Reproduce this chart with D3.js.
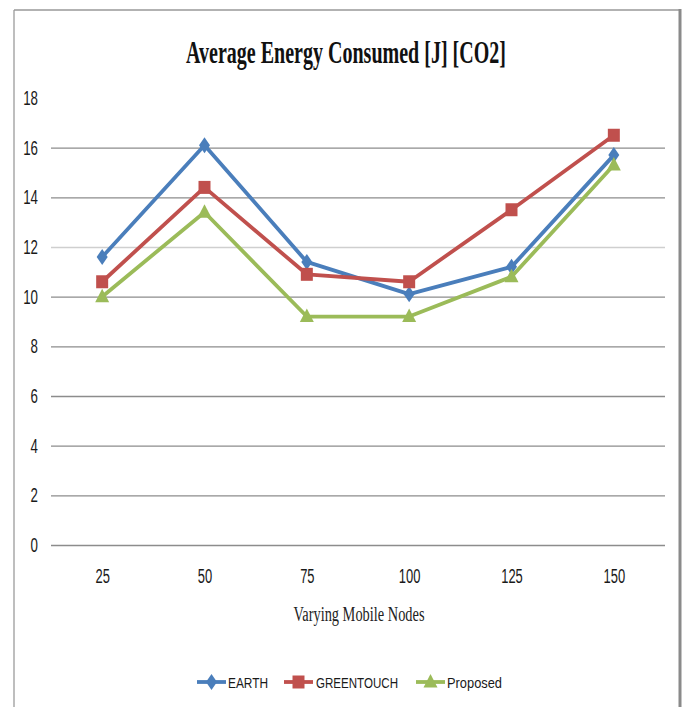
<!DOCTYPE html>
<html>
<head>
<meta charset="utf-8">
<script src="https://cdn.jsdelivr.net/npm/d3@7"></script>
<style>
  html, body { margin: 0; padding: 0; background: #fff; }
  svg { display: block; }
</style>
</head>
<body>
<svg id="chart" width="684" height="707"></svg>
<script>
// Mobile-node counts on the x axis
const nodes = ["25", "50", "75", "100", "125", "150"];

// Average energy consumed per scheme
const earth      = [11.6, 16.1, 11.4, 10.1, 11.2, 15.7];
const greentouch = [10.6, 14.4, 10.9, 10.6, 13.5, 16.5];
const proposed   = [10.0, 13.4,  9.2,  9.2, 10.8, 15.3];

const yTicks = [0, 2, 4, 6, 8, 10, 12, 14, 16, 18];

const seriesNames  = ["EARTH", "GREENTOUCH", "Proposed"];
const seriesColors = ["#4a7ebb", "#c0504d", "#9bbb59"];
const seriesShapes = ["diamond", "square", "triangle"];

const series = [earth, greentouch, proposed].map((vals, i) => ({
  name: seriesNames[i], color: seriesColors[i], shape: seriesShapes[i],
  values: vals.map((v, j) => ({ x: nodes[j], y: v }))
}));

const SANS = "'Liberation Sans', Arial, sans-serif";
const SERIF = "'Liberation Serif', 'Times New Roman', serif";

const svg = d3.select("#chart");

// Outer chart frame
svg.append("line").attr("x1", 14).attr("y1", 10).attr("x2", 14).attr("y2", 707)
  .attr("stroke", "#a8a8a8").attr("stroke-width", 1.5);
svg.append("line").attr("x1", 14).attr("y1", 10).attr("x2", 681).attr("y2", 10)
  .attr("stroke", "#999").attr("stroke-width", 1.5);
svg.append("line").attr("x1", 680).attr("y1", 9).attr("x2", 680).attr("y2", 707)
  .attr("stroke", "#8a8a8a").attr("stroke-width", 3);

const plot = { left: 51, right: 665, top: 98, bottom: 545 };

const x = d3.scalePoint().domain(nodes).range([plot.left, plot.right]).padding(0.5);
const y = d3.scaleLinear().domain([0, 18]).range([plot.bottom, plot.top]);

// Horizontal gridlines and y labels (narrow numerals)
const yAxis = d3.axisLeft(y).tickValues(yTicks)
  .tickSize(-(plot.right - plot.left)).tickPadding(13).tickFormat(d3.format("d"));
const gy = svg.append("g").attr("transform", `translate(${plot.left},0)`).call(yAxis);
gy.select(".domain").remove();
gy.selectAll(".tick line")
  .attr("stroke", d => d === 12 ? "#cfcfcf" : "#8c8c8c")
  .attr("stroke-width", 1.3)
  .attr("display", d => d === 18 ? "none" : null);
gy.selectAll(".tick text")
  .attr("font-family", SANS).attr("font-size", 20.5).attr("fill", "#1a1a1a")
  .attr("textLength", d => String(d).length * 7.4)
  .attr("lengthAdjust", "spacingAndGlyphs");

// X axis labels
const xAxis = d3.axisBottom(x).tickSize(0).tickPadding(24);
const gx = svg.append("g").attr("transform", `translate(0,${plot.bottom})`).call(xAxis);
gx.select(".domain").remove();
gx.selectAll(".tick text")
  .attr("font-family", SANS).attr("font-size", 20).attr("fill", "#1a1a1a")
  .attr("textLength", d => d.length * 7.2)
  .attr("lengthAdjust", "spacingAndGlyphs");

// Title
svg.append("text")
  .attr("x", 346).attr("y", 63).attr("text-anchor", "middle")
  .attr("font-family", SERIF)
  .attr("font-weight", "bold").attr("font-size", 31)
  .attr("textLength", 320).attr("lengthAdjust", "spacingAndGlyphs")
  .attr("fill", "#111")
  .text("Average Energy Consumed [J] [CO2]");

// X axis title
svg.append("text")
  .attr("x", 359).attr("y", 621).attr("text-anchor", "middle")
  .attr("font-family", SERIF)
  .attr("font-size", 20)
  .attr("textLength", 131).attr("lengthAdjust", "spacingAndGlyphs")
  .attr("fill", "#222")
  .text("Varying Mobile Nodes");

// Marker shapes
function markerPath(shape) {
  if (shape === "diamond") return "M0,-8 L5.5,0 L0,8 L-5.5,0 Z";
  if (shape === "square") return "M-6,-6.5 L6,-6.5 L6,6.5 L-6,6.5 Z";
  return "M0,-8 L7,5.5 L-7,5.5 Z";
}

const line = d3.line().x(d => x(d.x)).y(d => y(d.y));

const gs = svg.append("g").selectAll("g").data(series).join("g");
gs.append("path")
  .attr("d", d => line(d.values))
  .attr("fill", "none").attr("stroke", d => d.color)
  .attr("stroke-width", 3.8).attr("stroke-linejoin", "round");
gs.each(function (s) {
  d3.select(this).selectAll("path.mk").data(s.values).join("path")
    .attr("class", "mk")
    .attr("transform", d => `translate(${x(d.x)},${y(d.y)})`)
    .attr("d", markerPath(s.shape))
    .attr("fill", s.color);
});

// Legend
const legendItems = [
  { lineX: 197, textX: 228, w: 40 },
  { lineX: 284, textX: 316, w: 82 },
  { lineX: 416, textX: 447, w: 55 }
];
const legY = 682;
const lg = svg.append("g").selectAll("g").data(series).join("g");
lg.append("line")
  .attr("x1", (d, i) => legendItems[i].lineX)
  .attr("x2", (d, i) => legendItems[i].lineX + 29)
  .attr("y1", legY).attr("y2", legY)
  .attr("stroke", d => d.color).attr("stroke-width", 3.8);
lg.append("path")
  .attr("transform", (d, i) => `translate(${legendItems[i].lineX + 14.5},${legY})`)
  .attr("d", d => markerPath(d.shape))
  .attr("fill", d => d.color);
lg.append("text")
  .attr("x", (d, i) => legendItems[i].textX)
  .attr("y", legY + 5.5)
  .attr("font-family", SANS)
  .attr("font-size", 15).attr("fill", "#1a1a1a")
  .attr("textLength", (d, i) => legendItems[i].w)
  .attr("lengthAdjust", "spacingAndGlyphs")
  .text(d => d.name);
</script>
</body>
</html>
